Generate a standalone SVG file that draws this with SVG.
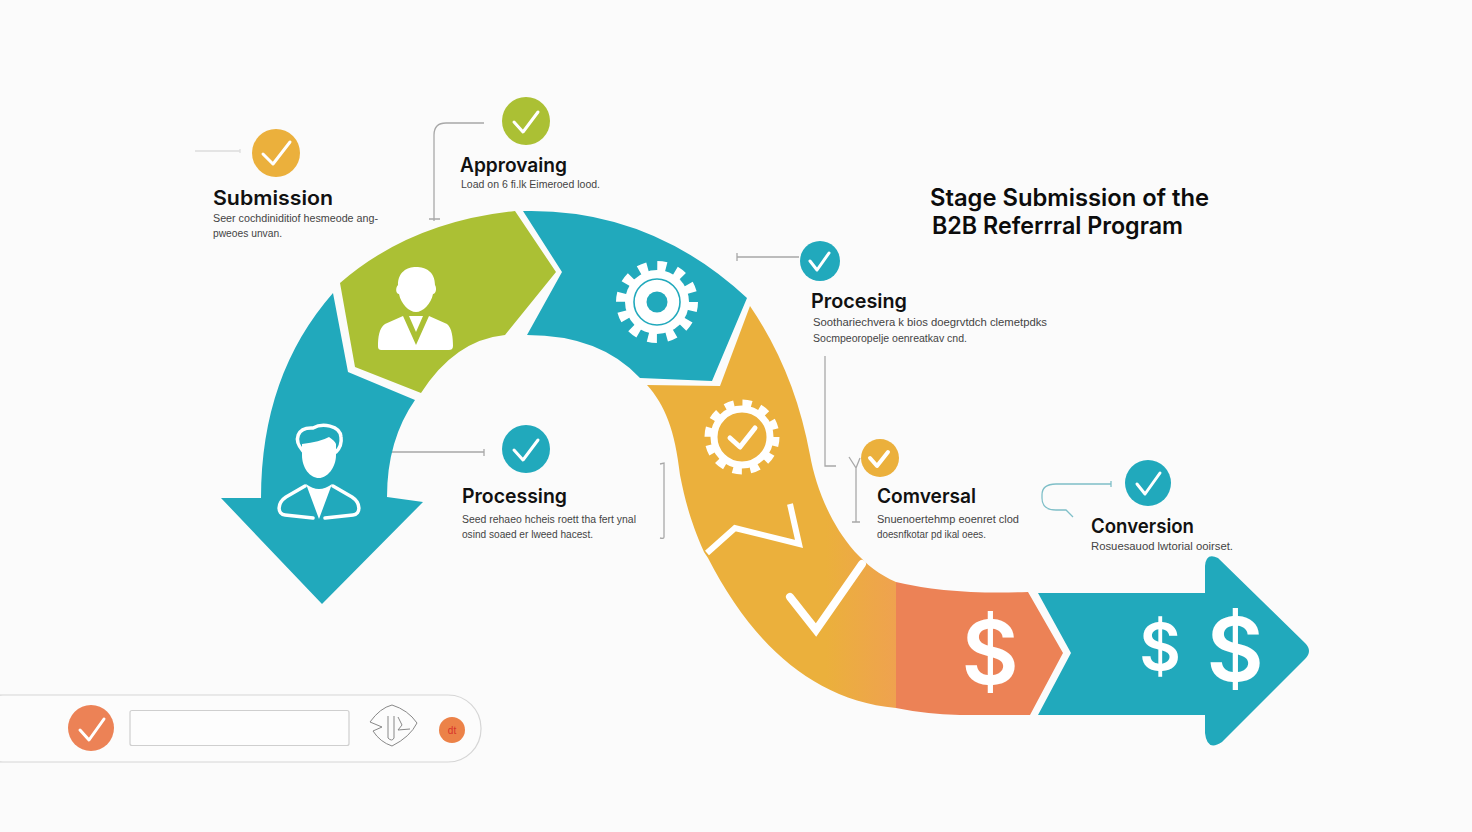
<svg xmlns="http://www.w3.org/2000/svg" width="1472" height="832" viewBox="0 0 1472 832">
<style>
.h{font-family:Inter,"Liberation Sans",sans-serif;font-weight:600;font-size:20px;fill:#111}
.s{font-family:"Liberation Sans",Arial,sans-serif;font-size:10px;fill:#444}
.t{font-family:Inter,"Liberation Sans",sans-serif;font-weight:600;font-size:24px;fill:#0c0c0c}
.d{font-family:Inter,"Liberation Sans",sans-serif;font-weight:600;fill:#fff;text-anchor:middle}
.c{fill:none;stroke:#a8a8a8;stroke-width:1.3}
.k{fill:none;stroke:#fff;stroke-width:3;stroke-linecap:round;stroke-linejoin:round}
.w{fill:#fff}
.o{fill:none;stroke:#fff;stroke-width:3.5;stroke-linecap:round;stroke-linejoin:round}
</style>
<defs><linearGradient id="og" x1="0" x2="1" y1="0" y2="0"><stop offset="0.72" stop-color="#EBB03C"/><stop offset="1" stop-color="#EFA24F"/></linearGradient></defs>
<rect width="1472" height="832" fill="#FBFBFB"/>
<g id="connectors">
<path class="c" style="stroke:#ddd" d="M195 151H240M240 149V153"/>
<path class="c" d="M484 123H446Q434 123 434 135V221M429 219H440"/>
<path class="c" d="M799 257H737M737 253V261"/>
<path class="c" d="M391 452H484M484 449V456"/>
<path class="c" d="M660 464L664 463V537Q664 539 660 538"/>
<path class="c" d="M825 356V466H836"/>
<path class="c" d="M849 457L856 468V522M852 522H860M856 468L860 458"/>
<path class="c" style="stroke:#7fbfc8" d="M1111 484H1056Q1042 484 1042 495V498Q1042 510 1056 510H1066L1073 517M1111 481V487"/>
</g>
<g id="stage-submission-arrow"><path fill="#21A9BC" d="M333 293Q261 375 261 498H221L322 604L423 502L387 497Q387 440 415 400L348 372Z"/>
<path class="o" d="M303 451C293 440 297 427 313 428C322 423 340 425 341 437C342 444 339 449 336 452"/>
<path class="w" d="M302 444Q320 442 329 437Q335 441 336 444V455C336 468 327 478 319 478C310 478 302 468 302 455Z"/>
<path class="o" d="M305 486L286 497C277 503 277 514 285 515L313 518M333 486L352 497C361 503 361 514 353 515L325 518"/>
<path class="w" d="M306 484Q319 494 332 484L319 519Z"/></g>
<g id="stage-approving-segment"><path fill="#ABC034" d="M340 283Q410 222 515 211L556 272L505 335Q455 340 421 393L355 367Z"/>
<g class="w"><path d="M398 285C398 272 407 267 416 267C426 267 435 272 435 285C437 288 436 294 433 294C431 304 423 312 416 312C409 312 401 304 399 294C396 294 395 288 398 285Z"/><path d="M403 316L416 345L429 316L447 324C452 328 453 338 453 346C453 349 451 350 449 350H382C379 350 378 349 378 346C378 338 379 328 385 324Z"/></g>
<path d="M405 316H427L416 341Z" fill="#ABC034"/><path d="M409 316H423L416 332Z" fill="#fff"/></g>
<g id="stage-processing-segment"><path fill="#21A9BC" d="M523 211Q650 208 747 298L712 381L640 378Q600 335 527 335L562 272Z"/>
<circle cx="657" cy="302" r="36" fill="none" stroke="#fff" stroke-width="10" stroke-dasharray="9 9.85"/><circle cx="657" cy="302" r="32" fill="#fff"/><circle cx="657" cy="302" r="23" fill="none" stroke="#21A9BC" stroke-width="1.6"/><circle cx="657" cy="302" r="10.500" fill="#21A9BC"/></g>
<g id="stage-conversal-segment"><path fill="url(#og)" d="M647 385L720 386L750 306C780 350 800 400 810 455C818 500 845 560 896 582V708C810 700 750 640 708 558L704 552C690 520 685 500 680 475C675 430 665 405 647 385Z"/>
<path fill="none" stroke="#fff" stroke-width="6" d="M707 553L735 528L799 544L790 504"/>
<circle cx="742" cy="437" r="33" fill="none" stroke="#fff" stroke-width="9" stroke-dasharray="9 8.3"/><circle cx="742" cy="437" r="28" fill="none" stroke="#fff" stroke-width="7"/>
<path class="k" style="stroke-width:5" d="M730 438L740 447L755 428"/>
<path class="k" style="stroke-width:8;stroke-linecap:round;stroke-linejoin:miter" d="M790 597L816 630L862 564"/></g>
<g id="stage-payout-segment"><path fill="#EC8256" d="M896 582Q950 595 1028 592L1063 653L1030 715H960Q925 714 896 708Z"/><text class="d" x="990" y="684" font-size="88">$</text></g>
<g id="stage-conversion-arrow"><path fill="#21A9BC" d="M1038 593H1205V566Q1206 552 1218 558L1305 643Q1313 651 1305 659L1222 742Q1207 752 1205 733V715H1038L1071 653Z"/>
<text class="d" x="1160" y="670" font-size="64">$</text><text class="d" x="1235" y="681" font-size="88">$</text></g>
<g id="title"><text class="t" x="930" y="206" textLength="279" lengthAdjust="spacingAndGlyphs">Stage Submission of the</text><text class="t" x="932" y="234" textLength="251" lengthAdjust="spacingAndGlyphs">B2B Referrral Program</text></g>
<g id="label-submission"><circle cx="276" cy="153" r="24" fill="#EBB03C"/><path class="k" d="M263 154L273 164L290 142"/><text class="h" x="213" y="205" textLength="120" lengthAdjust="spacingAndGlyphs">Submission</text><text class="s" x="213" y="222" textLength="165" lengthAdjust="spacingAndGlyphs">Seer cochdiniditiof hesmeode  ang-</text><text class="s" x="213" y="237" textLength="69" lengthAdjust="spacingAndGlyphs">pweoes unvan.</text></g>
<g id="label-approving"><circle cx="526" cy="121" r="24" fill="#ABC034"/><path class="k" d="M514 122L523 132L538 112"/><text class="h" x="460" y="172" textLength="107" lengthAdjust="spacingAndGlyphs">Approvaing</text><text class="s" x="461" y="188" textLength="139" lengthAdjust="spacingAndGlyphs">Load on 6 fi.lk Eimeroed lood.</text></g>
<g id="label-procesing"><circle cx="820" cy="261" r="20" fill="#21A9BC"/><path class="k" d="M810 261L817 270L829 253"/><text class="h" x="811" y="308" textLength="96" lengthAdjust="spacingAndGlyphs">Procesing</text><text class="s" x="813" y="326" textLength="234" lengthAdjust="spacingAndGlyphs">Soothariechvera k bios doegrvtdch clemetpdks</text><text class="s" x="813" y="342" textLength="154" lengthAdjust="spacingAndGlyphs">Socmpeoropelje oenreatkav cnd.</text></g>
<g id="label-processing"><circle cx="526" cy="449" r="24" fill="#21A9BC"/><path class="k" d="M514 450L523 460L538 440"/><text class="h" x="462" y="503" textLength="105" lengthAdjust="spacingAndGlyphs">Processing</text><text class="s" x="462" y="523" textLength="174" lengthAdjust="spacingAndGlyphs">Seed rehaeo hcheis roett tha fert ynal</text><text class="s" x="462" y="538" textLength="131" lengthAdjust="spacingAndGlyphs">osind soaed er lweed hacest.</text></g>
<g id="label-conversal"><circle cx="880" cy="458" r="19" fill="#EBB03C"/><path class="k" style="stroke-width:4" d="M870 458L877 466L888 452"/><text class="h" x="877" y="503" textLength="99" lengthAdjust="spacingAndGlyphs">Comversal</text><text class="s" x="877" y="523" textLength="142" lengthAdjust="spacingAndGlyphs">Snuenoertehmp eoenret clod</text><text class="s" x="877" y="538" textLength="109" lengthAdjust="spacingAndGlyphs">doesnfkotar pd ikal oees.</text></g>
<g id="label-conversion"><circle cx="1148" cy="483" r="23" fill="#21A9BC"/><path class="k" d="M1137 484L1145 494L1160 473"/><text class="h" x="1091" y="533" textLength="103" lengthAdjust="spacingAndGlyphs">Conversion</text><text class="s" x="1091" y="550" textLength="142" lengthAdjust="spacingAndGlyphs">Rosuesauod lwtorial ooirset.</text></g>
<g id="bottom-bar"><rect x="-30" y="695" width="511" height="67" rx="33" fill="#FCFCFC" stroke="#d6d6d6" stroke-width="1.2"/><circle cx="91" cy="728" r="23" fill="#EC8256"/><path class="k" d="M80 730L89 740L104 719"/><rect x="130" y="710.500" width="219" height="35" rx="2" fill="#fdfdfd" stroke="#cfcfcf" stroke-width="1.2"/>
<path fill="none" stroke="#888" stroke-width="1" d="M370 722Q380 708 392 705Q408 710 417 723Q410 737 392 746Q380 742 373 731L382 727ZM388 716V738Q392 742 394 738V716M398 717L402 725L398 730L410 729"/><circle cx="452" cy="730" r="13" fill="#EC8248"/><text x="452" y="734" font-size="10" fill="#d8322a" text-anchor="middle" font-family="'Liberation Sans',sans-serif">dt</text></g>
</svg>
